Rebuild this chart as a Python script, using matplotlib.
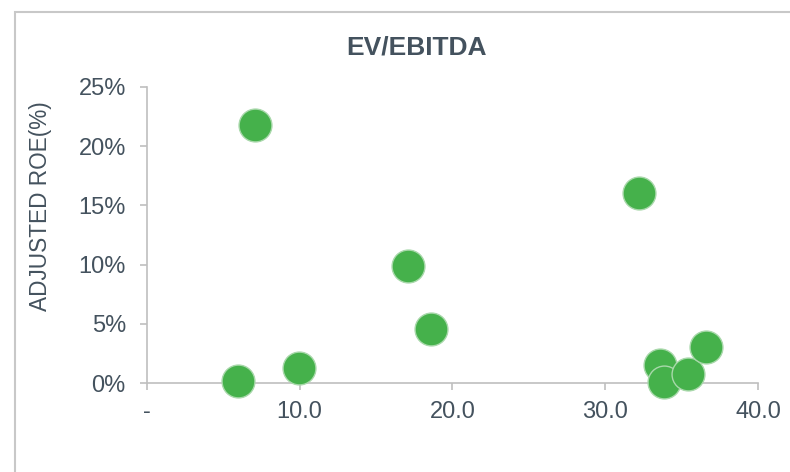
import matplotlib
matplotlib.use("Agg")
import matplotlib.pyplot as plt
from matplotlib.patches import Rectangle
from matplotlib.ticker import FuncFormatter

plt.rcParams['font.family'] = ['Liberation Sans', 'DejaVu Sans']

# data
ev_ebitda = [7.1, 6.0, 9.95, 17.1, 18.6, 32.2, 33.6, 33.8, 35.4, 36.6]
adj_roe = [21.8, 0.19, 1.26, 9.9, 4.55, 16.0, 1.54, 0.13, 0.78, 3.08]
x_ticks = [0, 10, 20, 30, 40]
y_ticks = [0, 5, 10, 15, 20, 25]

text_col = '#44525E'
axis_col = '#BFBFBF'
green = '#45B14B'

fig = plt.figure(figsize=(7.9, 4.72), dpi=100)
ax = fig.add_axes([146.7 / 790, 1 - 383.3 / 472, (758.3 - 146.7) / 790, (383.3 - 86.7) / 472])

# outer chart border (runs off the right and bottom edges)
fig.add_artist(Rectangle((15 / 790, -0.2), 1.5, 1.2 - 12 / 472,
                         transform=fig.transFigure, fill=False,
                         ec='#C8C8C8', lw=1.5))

ax.scatter(ev_ebitda, adj_roe, s=560, c=green, edgecolors='#A8D8AA',
           linewidths=1.0, clip_on=False, zorder=3)

ax.set_xlim(0, 40)
ax.set_ylim(0, 25)
ax.set_xticks(x_ticks)
ax.set_yticks(y_ticks)
ax.xaxis.set_major_formatter(FuncFormatter(lambda v, p: '-' if v == 0 else f'{v:.1f}'))
ax.yaxis.set_major_formatter(FuncFormatter(lambda v, p: f'{v:.0f}%'))

for s in ['top', 'right']:
    ax.spines[s].set_visible(False)
for s in ['left', 'bottom']:
    ax.spines[s].set_color(axis_col)
    ax.spines[s].set_linewidth(1.2)

ax.tick_params(axis='both', colors=axis_col, labelcolor=text_col,
               labelsize=17, length=5, width=1.2)
ax.tick_params(axis='y', pad=10)
ax.tick_params(axis='x', pad=8)

ax.set_ylabel('ADJUSTED ROE(%)', fontsize=16.3, color=text_col)
ax.yaxis.set_label_coords((52 - 146.7) / 611.6, (383.3 - 206) / 296.6)

fig.text(416.5 / 790, 1 - 47.5 / 472, 'EV/EBITDA', ha='center', va='center',
         fontsize=19, fontweight='bold', color=text_col)

fig.savefig('out.png', dpi=100)
